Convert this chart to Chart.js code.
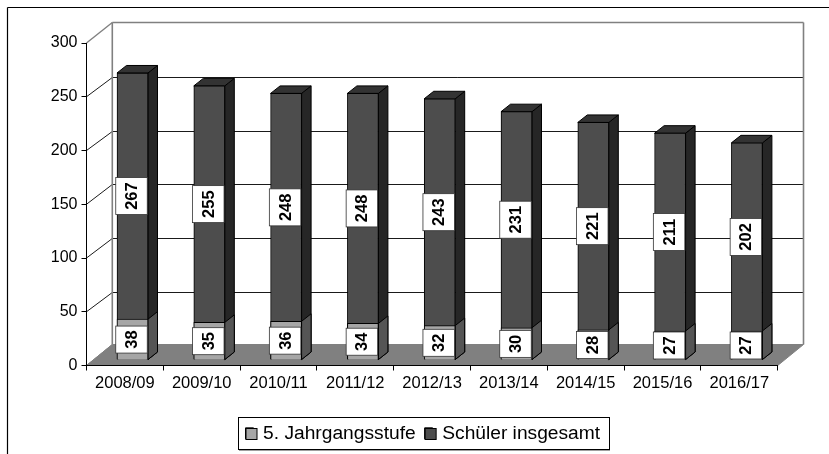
<!DOCTYPE html>
<html><head><meta charset="utf-8">
<style>html,body{margin:0;padding:0;background:#fff}#w{position:relative;width:829px;height:454px}</style>
<script src="https://cdn.jsdelivr.net/npm/chart.js@4"></script>
</head><body><div id="w"><canvas id="c" width="829" height="454"></canvas></div>
<script>
const categories = ['2008/09','2009/10','2010/11','2011/12','2012/13','2013/14','2014/15','2015/16','2016/17'];
const fifthGrade = [38,35,36,34,32,30,28,27,27];
const totalPupils = [267,255,248,248,243,231,221,211,202];
const yTicks = [0,50,100,150,200,250,300];

const FONT = '"Liberation Sans", Arial, sans-serif';
const wallDx = 25.8;
const wallDy = v => v===0 ? -21 : v===300 ? -20.5 : -19.5;
const barShift = {dx:7.6, dy:-5.5};
const barDepth = {dx:9.5, dy:-7.5};

function poly(ctx, pts, fill, stroke, lw){
  ctx.beginPath();
  pts.forEach((p,i)=> i?ctx.lineTo(p[0],p[1]):ctx.moveTo(p[0],p[1]));
  ctx.closePath();
  if(fill){ctx.fillStyle=fill;ctx.fill();}
  if(stroke){ctx.strokeStyle=stroke;ctx.lineWidth=lw||1;ctx.stroke();}
}
function line(ctx,x1,y1,x2,y2,c,lw){
  ctx.beginPath();ctx.moveTo(x1,y1);ctx.lineTo(x2,y2);ctx.strokeStyle=c;ctx.lineWidth=lw||1;ctx.stroke();
}

const sideColours = ['#555555','#262626'];
const topColours = [null,'#333333'];

const threeD = {
  id:'threeD',
  afterLayout(chart){
    const l = chart.legend;
    const w = l.right-l.left;
    l.left = 236.5; l.right = l.left+w;
    l.top = 414.75; l.bottom = l.top+37.5;
  },
  beforeDraw(chart){
    const {ctx,chartArea:a,scales:{y}} = chart;
    ctx.save();
    line(ctx,7.5,7.5,829,7.5,'#000',1.2);
    line(ctx,7.5,7.5,7.5,454,'#000',1.2);
    const y0=y.getPixelForValue(0), yb=y0+wallDy(0);
    const lx=a.left+wallDx, rx=a.right+wallDx;
    poly(ctx,[[a.left,y0],[a.right,y0],[rx,yb],[lx,yb]],'#808080','#808080',1);
    yTicks.forEach(v=>{
      const py=y.getPixelForValue(v), by=Math.floor(py+wallDy(v))+.5;
      const edge=(v===0||v===300);
      line(ctx,a.left,py,lx,by,edge?'#808080':'#1a1a1a',v===300?1.4:1);
      if(v>0) line(ctx,lx,by,rx,by,edge?'#808080':'#1a1a1a',edge?1.6:1);
    });
    const top=Math.floor(y.getPixelForValue(300)+wallDy(300))+.5;
    line(ctx,lx,top,lx,yb,'#808080',1.6);
    line(ctx,rx,top,rx,yb,'#808080',1.6);
    ctx.restore();
  },
  beforeDatasetDraw(chart,args){
    const ctx=chart.ctx;
    ctx.save();
    ctx.translate(barShift.dx,barShift.dy);
    chart.getDatasetMeta(args.index).data.forEach(b=>{
      const r=b.x+b.width/2, l=b.x-b.width/2, t=b.y, bs=b.base;
      const d=barDepth;
      poly(ctx,[[r,t],[r+d.dx,t+d.dy],[r+d.dx,bs+d.dy],[r,bs]],sideColours[args.index],'#000',1);
      if(topColours[args.index])
        poly(ctx,[[l,t],[l+d.dx,t+d.dy],[r+d.dx,t+d.dy],[r,t]],topColours[args.index],'#000',1);
    });
  },
  afterDatasetDraw(chart){ chart.ctx.restore(); },
  afterDatasetsDraw(chart){
    const {ctx,scales:{y}}=chart;
    const m0=chart.getDatasetMeta(0).data, m1=chart.getDatasetMeta(1).data;
    ctx.save();
    ctx.translate(barShift.dx,barShift.dy);
    const box=(x,val,cy)=>{
      const txt=String(val), h=txt.length>2?37:27, w=31.5;
      ctx.fillStyle='#fff';ctx.strokeStyle='#333';ctx.lineWidth=.8;
      ctx.fillRect(x-w/2,cy-h/2,w,h);ctx.strokeRect(x-w/2,cy-h/2,w,h);
      ctx.save();ctx.translate(x,cy);ctx.rotate(-Math.PI/2);
      ctx.fillStyle='#000';ctx.font='bold 16.5px '+FONT;ctx.textAlign='center';ctx.textBaseline='middle';
      ctx.fillText(txt,0,1);ctx.restore();
    };
    m0.forEach((b,i)=>{
      box(b.x-1,fifthGrade[i],y.getPixelForValue(fifthGrade[i]/2));
      box(m1[i].x-1,totalPupils[i],y.getPixelForValue((fifthGrade[i]+totalPupils[i])/2));
    });
    ctx.restore();
    ctx.save();
    line(ctx,239,450,610,450,'#808080',1.4);
    ctx.strokeStyle='#000';ctx.lineWidth=1;ctx.strokeRect(238.5,417.5,371,32);
    // legend swatches at their full width
    chart.legend.legendHitBoxes.forEach((hb,i)=>{
      const it=chart.legend.legendItems[i];
      const top=Math.round(chart.legend.top+9+(chart.legend.options.labels.font.size-11)/2);
      ctx.fillStyle=it.fillStyle;ctx.fillRect(hb.left+.5,top+.5,11,11);
      ctx.strokeStyle='#000';ctx.lineWidth=1;ctx.strokeRect(hb.left+.5,top+.5,11,11);
    });
    ctx.restore();
  }
};

new Chart(document.getElementById('c'),{
  type:'bar',
  data:{labels:categories,datasets:[
    {label:'5. Jahrgangsstufe',data:fifthGrade,backgroundColor:'#a6a6a6',borderColor:'#000',borderWidth:1,barThickness:31},
    {label:'Schüler insgesamt',data:totalPupils,backgroundColor:'#4d4d4d',borderColor:'#000',borderWidth:1,barThickness:31}
  ]},
  plugins:[threeD],
  options:{
    responsive:false,animation:false,
    layout:{padding:{top:43,right:51.3,bottom:0,left:0}},
    plugins:{
      tooltip:{enabled:false},
      legend:{position:'bottom',align:'start',
        labels:{font:{family:FONT,size:19.2},color:'#000',boxWidth:8,boxHeight:11,padding:9}}
    },
    scales:{
      x:{stacked:true,
        grid:{drawOnChartArea:false,drawTicks:true,tickLength:5,tickColor:'#000',tickWidth:1},
        border:{display:true,color:'#000',width:1},
        ticks:{font:{family:FONT,size:16.5},color:'#000',maxRotation:0,autoSkip:false,padding:3},
        afterFit(s){s.height=88.5-(s.chart.legend?s.chart.legend.height:37.5);}
      },
      y:{stacked:false,min:0,max:300,
        grid:{drawOnChartArea:false,drawTicks:true,tickLength:5,tickColor:'#000',tickWidth:1},
        border:{display:true,color:'#000',width:1},
        ticks:{font:{family:FONT,size:16},color:'#000',stepSize:50,padding:4},
        afterFit(s){s.width=86.5;}
      }
    }
  }
});
</script></body></html>
